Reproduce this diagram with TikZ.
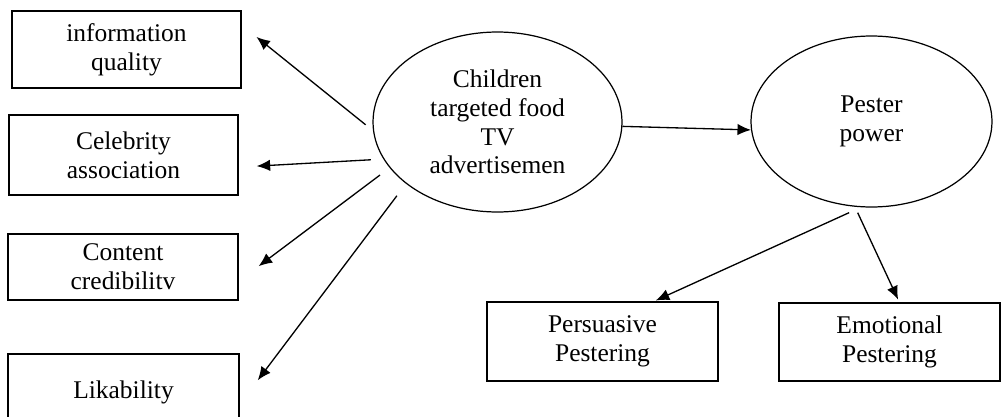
\documentclass[tikz,border=0pt]{standalone}
\usepackage{fontspec}
\setmainfont{Liberation Serif}
\usetikzlibrary{shapes.geometric, arrows.meta}

\begin{document}
\begin{tikzpicture}[x=0.02cm, y=-0.02cm, >={Latex[length=2.7mm, width=2.3mm]},
    box/.style={draw, line width=0.8pt, align=center, inner sep=0pt, font=\fontsize{14.5}{16.3}\selectfont},
    oval/.style={draw, ellipse, line width=0.7pt, align=center, inner sep=0pt, font=\fontsize{14.5}{16.3}\selectfont},
    link/.style={->, line width=0.75pt}]
    \clip (0,0) rectangle (1001,416);
    % left column
    \node[box, minimum width=4.58cm, minimum height=1.54cm] (info) at (126.5,49.5) {information\\quality};
    \node[box, minimum width=4.58cm, minimum height=1.60cm] (celeb) at (123.5,155) {Celebrity\\association};
    \node[box, minimum width=4.60cm, minimum height=1.32cm] (content) at (123,267) {Content\\credibilitv};
    \node[box, minimum width=4.62cm, minimum height=1.52cm] (lik) at (123.5,392) {Likability};
    % ellipses
    \node[oval, minimum width=4.98cm, minimum height=3.60cm] (ad) at (497.5,122) {Children\\targeted food\\TV\\advertisemen};
    \node[oval, minimum width=4.82cm, minimum height=3.42cm] (pp) at (871.5,121.5) {Pester\\power};
    % bottom row
    \node[box, minimum width=4.62cm, minimum height=1.58cm] (persu) at (602.5,341.5) {Persuasive\\Pestering};
    \node[box, minimum width=4.42cm, minimum height=1.56cm] (emot) at (889.5,342) {Emotional\\Pestering};
    % arrows
    \draw[link, shorten <=1.9mm, shorten >=3.8mm] (ad.184) -- (info.12);
    \draw[link, shorten <=2.5mm, shorten >=3.6mm] (ad.198) -- (celeb.-6);
    \draw[link, shorten <=2.4mm, shorten >=5mm] (ad.203) -- (content.-7);
    \draw[link, shorten <=3mm, shorten >=6mm] (ad.214) -- (lik.-6);
    \draw[link] (ad.-2) -- (pp.184);
    \draw[link, shorten <=2.6mm, shorten >=0.4mm] (pp.263) -- (persu.38);
    \draw[link, shorten <=1.3mm, shorten >=0.6mm] (pp.259) -- (emot.76);
\end{tikzpicture}
\end{document}
